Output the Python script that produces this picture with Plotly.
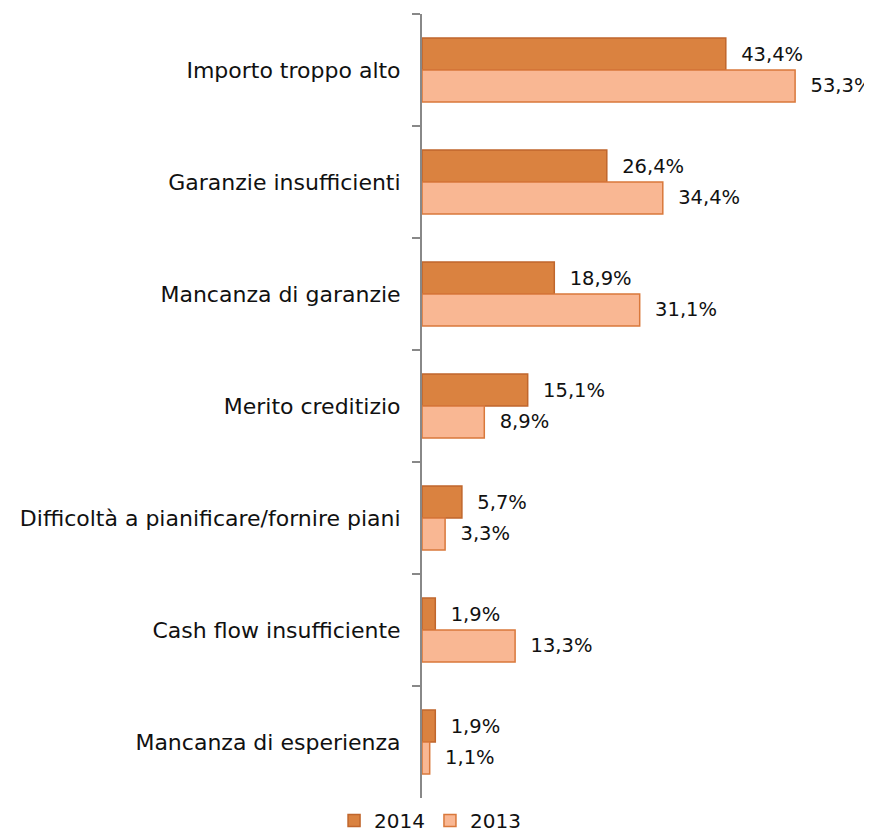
import plotly.graph_objects as go

categories = [
    "Importo troppo alto",
    "Garanzie insufficienti",
    "Mancanza di garanzie",
    "Merito creditizio",
    "Difficoltà a pianificare/fornire piani",
    "Cash flow insufficiente",
    "Mancanza di esperienza",
]
values_2014 = [43.4, 26.4, 18.9, 15.1, 5.7, 1.9, 1.9]
values_2013 = [53.3, 34.4, 31.1, 8.9, 3.3, 13.3, 1.1]

FONT = "DejaVu Sans"
SIZE = 22
LABEL_SIZE = 19.5


def pct(v):
    return "  " + f"{v:.1f}".replace(".", ",") + "%"


fig = go.Figure()
fig.add_trace(go.Bar(
    name="2014",
    y=categories,
    x=values_2014,
    orientation="h",
    marker=dict(color="#DA8240", line=dict(color="#C0662C", width=1.5)),
    text=[pct(v) for v in values_2014],
    textposition="outside",
    textfont=dict(size=LABEL_SIZE, color="#111111", family=FONT),
    cliponaxis=False,
))
fig.add_trace(go.Bar(
    name="2013",
    y=categories,
    x=values_2013,
    orientation="h",
    marker=dict(color="#F9B793", line=dict(color="#D9783B", width=1.5)),
    text=[pct(v) for v in values_2013],
    textposition="outside",
    textfont=dict(size=LABEL_SIZE, color="#111111", family=FONT),
    cliponaxis=False,
))

# page body adds an 8px offset, so margins are shifted to compensate
fig.update_layout(
    width=872,
    height=835,
    barmode="group",
    bargap=0.43,
    bargroupgap=0,
    plot_bgcolor="white",
    paper_bgcolor="white",
    font=dict(family=FONT, size=SIZE, color="#111111"),
    margin=dict(l=414, r=38, t=6, b=45, autoexpand=False),
    showlegend=True,
    legend=dict(
        orientation="h",
        xref="container",
        x=0.484,
        xanchor="center",
        yref="container",
        y=0.027,
        yanchor="middle",
        font=dict(size=20, family=FONT),
        itemwidth=30,
        tracegroupgap=0,
    ),
    uniformtext=dict(mode=False),
)
fig.update_xaxes(
    range=[0, 60],
    visible=False,
    showgrid=False,
    zeroline=False,
)
fig.update_yaxes(
    autorange="reversed",
    automargin=False,
    showline=True,
    linecolor="#888888",
    linewidth=2,
    ticks="outside",
    tickson="boundaries",
    ticklen=8,
    tickcolor="#888888",
    tickwidth=2,
    ticklabelstandoff=15,
    showgrid=False,
    tickfont=dict(size=SIZE, family=FONT, color="#111111"),
)

fig.write_html("out.html")
